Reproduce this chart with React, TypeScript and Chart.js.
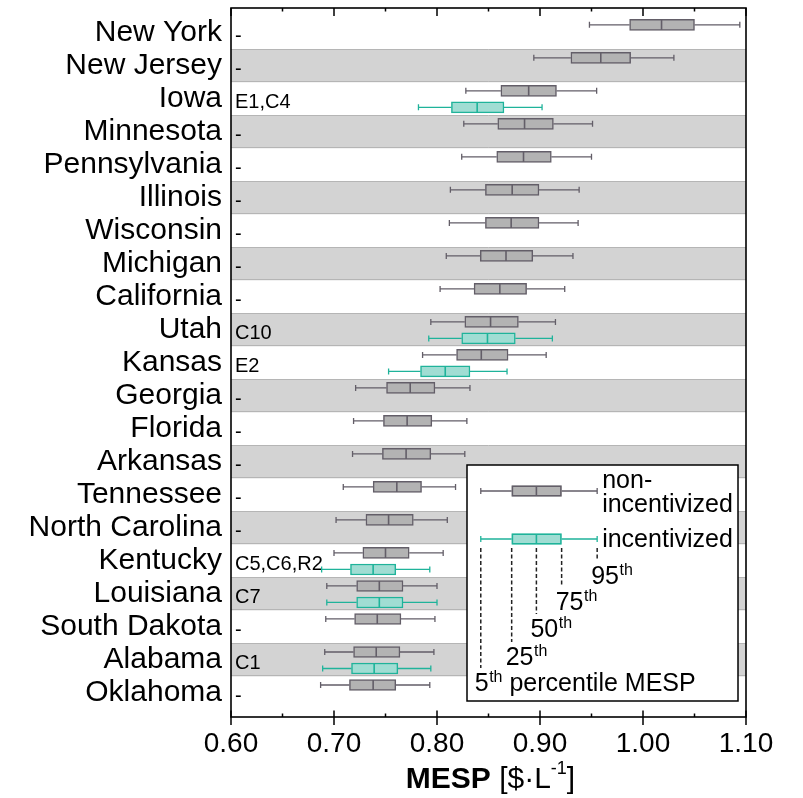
import React, { useEffect, useRef } from "react";
import { Chart, registerables } from "chart.js";

Chart.register(...registerables);

const FONT = "'Liberation Sans', Arial, Helvetica, sans-serif";

const states = [
  "New York", "New Jersey", "Iowa", "Minnesota", "Pennsylvania", "Illinois", "Wisconsin",
  "Michigan", "California", "Utah", "Kansas", "Georgia", "Florida", "Arkansas", "Tennessee",
  "North Carolina", "Kentucky", "Louisiana", "South Dakota", "Alabama", "Oklahoma",
];
const notes = [
  "-", "-", "E1,C4", "-", "-", "-", "-", "-", "-", "C10", "E2", "-", "-", "-", "-", "-",
  "C5,C6,R2", "C7", "-", "C1", "-",
];

// non-incentivized percentiles (5th, 25th, 50th, 75th, 95th)
const p5 = [0.948, 0.894, 0.828, 0.826, 0.824, 0.813, 0.812, 0.809, 0.803, 0.794, 0.786, 0.721, 0.719, 0.718, 0.709, 0.702, 0.700, 0.693, 0.692, 0.691, 0.687];
const q1 = [0.987, 0.930, 0.862, 0.859, 0.858, 0.847, 0.847, 0.842, 0.836, 0.827, 0.819, 0.751, 0.748, 0.747, 0.738, 0.731, 0.728, 0.722, 0.720, 0.719, 0.715];
const med = [1.018, 0.959, 0.889, 0.885, 0.884, 0.873, 0.872, 0.867, 0.861, 0.852, 0.843, 0.774, 0.771, 0.770, 0.761, 0.753, 0.750, 0.744, 0.742, 0.741, 0.738];
const q3 = [1.050, 0.988, 0.916, 0.913, 0.911, 0.899, 0.899, 0.893, 0.887, 0.879, 0.869, 0.798, 0.795, 0.794, 0.785, 0.777, 0.773, 0.767, 0.765, 0.764, 0.760];
const p95 = [1.094, 1.030, 0.955, 0.951, 0.950, 0.938, 0.937, 0.932, 0.924, 0.915, 0.906, 0.832, 0.829, 0.827, 0.818, 0.810, 0.806, 0.800, 0.798, 0.797, 0.793];

// incentivized percentiles (null = no incentive scenario)
const N = null;
const incP5 = [N, N, 0.782, N, N, N, N, N, N, 0.792, 0.753, N, N, N, N, N, 0.688, 0.693, N, 0.689, N];
const incQ1 = [N, N, 0.814, N, N, N, N, N, N, 0.824, 0.784, N, N, N, N, N, 0.716, 0.722, N, 0.717, N];
const incMed = [N, N, 0.839, N, N, N, N, N, N, 0.849, 0.808, N, N, N, N, N, 0.738, 0.744, N, 0.739, N];
const incQ3 = [N, N, 0.865, N, N, N, N, N, N, 0.876, 0.832, N, N, N, N, N, 0.760, 0.767, N, 0.762, N];
const incP95 = [N, N, 0.902, N, N, N, N, N, N, 0.912, 0.868, N, N, N, N, N, 0.793, 0.800, N, 0.794, N];

const xTicks = [0.6, 0.7, 0.8, 0.9, 1.0, 1.1];
const xMinorTicks = [0.65, 0.75, 0.85, 0.95, 1.05];

// legend sample box (5th, 25th, 50th, 75th, 95th)
const legendSample = [0.8425, 0.8725, 0.8965, 0.921, 0.9555];
const legendPct = ["5", "25", "50", "75", "95"];

const NON_OFF = -0.24;
const INC_OFF = 0.26;
const Y_MIN = -0.75;
const Y_MAX = 20.73;

const GRAY_FILL = "#b3b3b3";
const GRAY_LINE = "#635e68";
const TEAL_FILL = "#a0ddd3";
const TEAL_LINE = "#1fb39a";
const BAND = "#d3d3d3";

function drawWhiskers(ctx: CanvasRenderingContext2D, xs: any, yPix: number, a: number, b: number, m: number, c: number, d: number, color: string) {
  const xa = xs.getPixelForValue(a);
  const xb = xs.getPixelForValue(b);
  const xm = xs.getPixelForValue(m);
  const xc = xs.getPixelForValue(c);
  const xd = xs.getPixelForValue(d);
  ctx.save();
  ctx.strokeStyle = color;
  ctx.lineWidth = 1.3;
  ctx.beginPath();
  ctx.moveTo(xa, yPix);
  ctx.lineTo(xb, yPix);
  ctx.moveTo(xc, yPix);
  ctx.lineTo(xd, yPix);
  ctx.moveTo(xa, yPix - 3);
  ctx.lineTo(xa, yPix + 3);
  ctx.moveTo(xd, yPix - 3);
  ctx.lineTo(xd, yPix + 3);
  ctx.stroke();
  ctx.lineWidth = 1.6;
  ctx.beginPath();
  ctx.moveTo(xm, yPix - 5);
  ctx.lineTo(xm, yPix + 5);
  ctx.stroke();
  ctx.restore();
}

function drawSupText(ctx: CanvasRenderingContext2D, x: number, y: number, main: string, sup: string, rest: string, size: number) {
  ctx.font = `${size}px ${FONT}`;
  ctx.fillText(main, x, y);
  let w = ctx.measureText(main).width;
  const ss = Math.round(size * 0.62);
  ctx.font = `${ss}px ${FONT}`;
  ctx.fillText(sup, x + w + 0.5, y - size * 0.38);
  w += ctx.measureText(sup).width + 0.5;
  if (rest) {
    ctx.font = `${size}px ${FONT}`;
    ctx.fillText(rest, x + w, y);
  }
}

const boxPlugin = {
  id: "boxExtras",
  beforeDatasetsDraw(chart: any) {
    const { ctx, chartArea, scales } = chart;
    const ys = scales.y;
    const xs = scales.x;
    ctx.save();
    for (let i = 0; i < states.length; i++) {
      if (i % 2 === 1) {
        const t = ys.getPixelForValue(i - 0.5);
        const b = ys.getPixelForValue(i + 0.5);
        ctx.fillStyle = BAND;
        ctx.fillRect(chartArea.left, t, chartArea.right - chartArea.left, b - t);
        ctx.strokeStyle = "#b5b5b5";
        ctx.lineWidth = 1;
        ctx.beginPath();
        ctx.moveTo(chartArea.left, Math.round(t) + 0.5);
        ctx.lineTo(chartArea.right, Math.round(t) + 0.5);
        ctx.moveTo(chartArea.left, Math.round(b) - 0.5);
        ctx.lineTo(chartArea.right, Math.round(b) - 0.5);
        ctx.stroke();
      }
    }
    ctx.fillStyle = "#000";
    ctx.font = `20px ${FONT}`;
    ctx.textBaseline = "alphabetic";
    ctx.textAlign = "left";
    for (let i = 0; i < states.length; i++) {
      ctx.fillText(notes[i], chartArea.left + 4, ys.getPixelForValue(i) + 9.5);
    }
    for (let i = 0; i < states.length; i++) {
      drawWhiskers(ctx, xs, ys.getPixelForValue(i + NON_OFF), p5[i], q1[i], med[i], q3[i], p95[i], GRAY_LINE);
      if (incQ1[i] != null) {
        drawWhiskers(ctx, xs, ys.getPixelForValue(i + INC_OFF), incP5[i] as number, incQ1[i] as number, incMed[i] as number, incQ3[i] as number, incP95[i] as number, TEAL_LINE);
      }
    }
    ctx.restore();
  },
  afterDatasetsDraw(chart: any) {
    const { ctx, scales } = chart;
    const ys = scales.y;
    const xs = scales.x;
    ctx.save();
    for (let i = 0; i < states.length; i++) {
      const y1 = ys.getPixelForValue(i + NON_OFF);
      ctx.strokeStyle = GRAY_LINE;
      ctx.lineWidth = 1.6;
      ctx.beginPath();
      ctx.moveTo(xs.getPixelForValue(med[i]), y1 - 5);
      ctx.lineTo(xs.getPixelForValue(med[i]), y1 + 5);
      ctx.stroke();
      if (incMed[i] != null) {
        const y2 = ys.getPixelForValue(i + INC_OFF);
        ctx.strokeStyle = TEAL_LINE;
        ctx.beginPath();
        ctx.moveTo(xs.getPixelForValue(incMed[i]), y2 - 5);
        ctx.lineTo(xs.getPixelForValue(incMed[i]), y2 + 5);
        ctx.stroke();
      }
    }
    ctx.restore();
  },
  afterDraw(chart: any) {
    const { ctx, chartArea, scales } = chart;
    const xs = scales.x;
    const { left, right, top, bottom } = chartArea;
    ctx.save();
    ctx.strokeStyle = "#000";
    ctx.lineWidth = 1.5;
    ctx.beginPath();
    xTicks.forEach((v) => {
      const x = xs.getPixelForValue(v);
      ctx.moveTo(x, bottom - 6.5);
      ctx.lineTo(x, bottom + 8);
      ctx.moveTo(x, top);
      ctx.lineTo(x, top + 8);
    });
    xMinorTicks.forEach((v) => {
      const x = xs.getPixelForValue(v);
      ctx.moveTo(x, bottom - 3.5);
      ctx.lineTo(x, bottom);
      ctx.moveTo(x, top);
      ctx.lineTo(x, top + 3.5);
    });
    ctx.stroke();
    ctx.lineWidth = 1.6;
    ctx.strokeRect(left, top, right - left, bottom - top);

    // axis title
    const big = 30;
    const cx = (left + right) / 2 + 2;
    const by = bottom + 71;
    ctx.fillStyle = "#000";
    ctx.textBaseline = "alphabetic";
    ctx.textAlign = "left";
    ctx.font = `bold ${big}px ${FONT}`;
    const w1 = ctx.measureText("MESP").width;
    ctx.font = `${big}px ${FONT}`;
    const w2 = ctx.measureText(" [$\u00B7L").width;
    const w4 = ctx.measureText("]").width;
    ctx.font = `18px ${FONT}`;
    const w3 = ctx.measureText("-1").width;
    let tx = cx - (w1 + w2 + w3 + w4) / 2;
    ctx.font = `bold ${big}px ${FONT}`;
    ctx.fillText("MESP", tx, by);
    tx += w1;
    ctx.font = `${big}px ${FONT}`;
    ctx.fillText(" [$\u00B7L", tx, by);
    tx += w2;
    ctx.font = `18px ${FONT}`;
    ctx.fillText("-1", tx, by - 14);
    tx += w3;
    ctx.font = `${big}px ${FONT}`;
    ctx.fillText("]", tx, by);

    // legend box
    const lx = left + 236;
    const ly = top + 457;
    const lr = right - 8;
    const lb = bottom - 16;
    ctx.fillStyle = "#fff";
    ctx.fillRect(lx, ly, lr - lx, lb - ly);
    ctx.strokeStyle = "#000";
    ctx.lineWidth = 1.5;
    ctx.strokeRect(lx, ly, lr - lx, lb - ly);

    const sx = legendSample.map((v) => xs.getPixelForValue(v));
    const rows = [
      { y: ly + 26, fill: GRAY_FILL, line: GRAY_LINE },
      { y: ly + 74, fill: TEAL_FILL, line: TEAL_LINE },
    ];
    rows.forEach((r) => {
      ctx.fillStyle = r.fill;
      ctx.fillRect(sx[1], r.y - 5.5, sx[3] - sx[1], 11);
      ctx.strokeStyle = r.line;
      ctx.lineWidth = 1.5;
      ctx.strokeRect(sx[1] + 0.75, r.y - 4.75, sx[3] - sx[1] - 1.5, 9.5);
      drawWhiskers(ctx, xs, r.y, legendSample[0], legendSample[1], legendSample[2], legendSample[3], legendSample[4], r.line);
    });
    ctx.fillStyle = "#000";
    ctx.font = `25px ${FONT}`;
    ctx.fillText("non-", sx[4] + 5, ly + 23);
    ctx.fillText("incentivized", sx[4] + 5, ly + 47);
    ctx.fillText("incentivized", sx[4] + 5, ly + 82);

    const ends = [203, 177, 149, 122, 96];
    ctx.strokeStyle = "#222";
    ctx.lineWidth = 1.5;
    ctx.setLineDash([4, 2.5]);
    ctx.beginPath();
    sx.forEach((x, k) => {
      ctx.moveTo(x, ly + 83);
      ctx.lineTo(x, ly + ends[k]);
    });
    ctx.stroke();
    ctx.setLineDash([]);
    ctx.fillStyle = "#000";
    sx.forEach((x, k) => {
      const base = ly + ends[k] + 23;
      drawSupText(ctx, x - 6, base, legendPct[k], "th", k === 0 ? " percentile MESP" : "", 25);
    });
    ctx.restore();
  },
};

export default function App() {
  const canvasRef = useRef<HTMLCanvasElement | null>(null);

  useEffect(() => {
    if (!canvasRef.current) return;
    const nonIncData = states.map((_, i) => ({ y: i + NON_OFF, x: [q1[i], q3[i]] }));
    const incData = states
      .map((_, i) => (incQ1[i] == null ? null : { y: i + INC_OFF, x: [incQ1[i], incQ3[i]] }))
      .filter((d) => d !== null);

    const chart = new Chart(canvasRef.current, {
      type: "bar",
      data: {
        datasets: [
          {
            label: "non-incentivized",
            data: nonIncData as any,
            backgroundColor: GRAY_FILL,
            borderColor: GRAY_LINE,
            borderWidth: 1.5,
            borderSkipped: false,
            barThickness: 11,
            grouped: false,
          } as any,
          {
            label: "incentivized",
            data: incData as any,
            backgroundColor: TEAL_FILL,
            borderColor: TEAL_LINE,
            borderWidth: 1.5,
            borderSkipped: false,
            barThickness: 11,
            grouped: false,
          } as any,
        ],
      },
      options: {
        indexAxis: "y",
        responsive: false,
        animation: false,
        events: [],
        layout: { padding: { top: 8, right: 57, left: 0, bottom: 0 } },
        plugins: { legend: { display: false }, tooltip: { enabled: false } },
        scales: {
          x: {
            type: "linear",
            position: "bottom",
            min: 0.6,
            max: 1.1,
            bounds: "data",
            offset: false,
            grid: { display: false, drawTicks: false },
            border: { display: false },
            afterBuildTicks: (s: any) => {
              s.ticks = xTicks.map((v) => ({ value: v }));
              s.min = 0.6;
              s.max = 1.1;
            },
            afterFit: (s: any) => {
              s.height = 81;
              s.paddingLeft = 0;
              s.paddingRight = 0;
            },
            ticks: {
              color: "#000",
              padding: 10,
              maxRotation: 0,
              autoSkip: false,
              font: { family: FONT, size: 28 },
              callback: (v: any) => Number(v).toFixed(2),
            },
          },
          y: {
            type: "linear",
            position: "left",
            reverse: true,
            min: Y_MIN,
            max: Y_MAX,
            bounds: "data",
            offset: false,
            grid: { display: false, drawTicks: false, offset: false },
            border: { display: false },
            afterBuildTicks: (s: any) => {
              s.ticks = states.map((_, i) => ({ value: i }));
              s.min = Y_MIN;
              s.max = Y_MAX;
            },
            afterFit: (s: any) => {
              s.width = 231;
              s.paddingTop = 0;
              s.paddingBottom = 0;
            },
            ticks: {
              color: "#000",
              padding: 9,
              autoSkip: false,
              font: { family: FONT, size: 30 },
              callback: (v: any) => states[Math.round(Number(v))] ?? "",
            },
          },
        },
      } as any,
      plugins: [boxPlugin],
    });
    return () => chart.destroy();
  }, []);

  return (
    <div style={{ position: "absolute", left: 0, top: 0, width: 803, height: 798, background: "#fff" }}>
      <canvas ref={canvasRef} width={803} height={798} style={{ display: "block" }} />
    </div>
  );
}
